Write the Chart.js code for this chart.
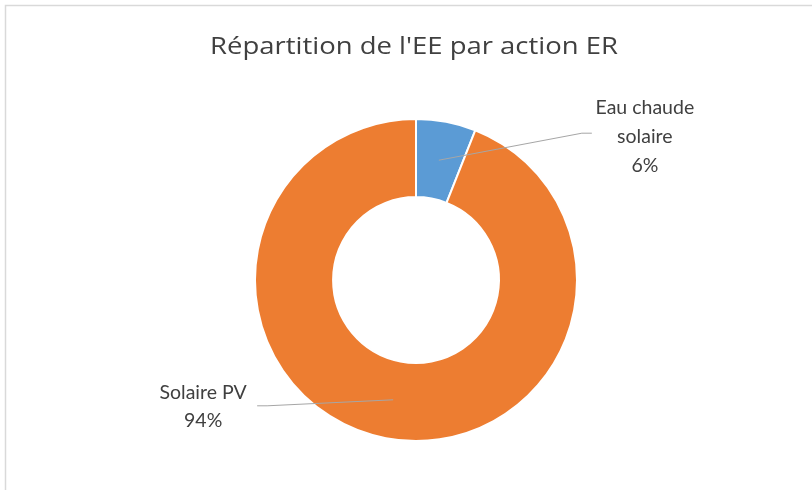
<!DOCTYPE html>
<html>
<head>
<meta charset="utf-8">
<script src="https://cdn.jsdelivr.net/npm/chart.js@4/dist/chart.umd.min.js"></script>
<style>
  html, body { margin: 0; padding: 0; background: #fff; }
  #wrap { width: 812px; height: 490px; position: relative; }
</style>
</head>
<body>
<div id="wrap"><canvas id="c" width="812" height="490"></canvas></div>
<script>
// Energy split by renewable action
const chartTitle = "Répartition de l'EE par action ER";
const categories = ["Eau chaude solaire", "Solaire PV"];
const labelLines = [["Eau chaude", "solaire"], ["Solaire PV"]];
const shares = [6, 94];
const sliceColors = ["#5B9BD5", "#ED7D31"];

// Label placement relative to each slice's mid-ring point
const labelLayout = [
  { elbowDx: 143, elbowDy: -27, endDx: 153, textDx: 206, firstBaseDy: -19 },
  { elbowDx: -126, elbowDy: 6, endDx: -136, textDx: -190, firstBaseDy: -7 }
];

const LABEL_FONT = "Lato, 'Open Sans', sans-serif";
const TITLE_FONT = "'Open Sans', Lato, sans-serif";
const TITLE_WIDTH = 408;
const LINE_GAP = 28.7;

const decorPlugin = {
  id: 'decor',
  beforeDraw(chart) {
    const ctx = chart.ctx;
    ctx.save();
    ctx.fillStyle = '#fff';
    ctx.fillRect(0, 0, chart.width, chart.height);
    ctx.strokeStyle = '#d9d9d9';
    ctx.lineWidth = 1.5;
    ctx.strokeRect(5.5, 5.5, chart.width + 20, chart.height + 20);
    // title, fitted to its box
    const area = chart.chartArea;
    ctx.font = "24px " + TITLE_FONT;
    const sx = TITLE_WIDTH / ctx.measureText(chartTitle).width;
    ctx.translate((area.left + area.right) / 2 - 2, 54);
    ctx.scale(sx, 1);
    ctx.fillStyle = '#404040';
    ctx.textAlign = 'center';
    ctx.textBaseline = 'alphabetic';
    ctx.fillText(chartTitle, 0, 0);
    ctx.restore();
  },
  afterDatasetsDraw(chart) {
    const ctx = chart.ctx;
    const meta = chart.getDatasetMeta(0);
    const total = shares.reduce((a, b) => a + b, 0);
    ctx.save();
    meta.data.forEach((arc, i) => {
      const p = arc.tooltipPosition();
      const L = labelLayout[i];
      ctx.strokeStyle = '#a6a6a6';
      ctx.lineWidth = 1;
      ctx.beginPath();
      ctx.moveTo(p.x, p.y);
      ctx.lineTo(p.x + L.elbowDx, p.y + L.elbowDy);
      ctx.lineTo(p.x + L.endDx, p.y + L.elbowDy);
      ctx.stroke();
      const lines = labelLines[i].concat([Math.round(shares[i] / total * 100) + '%']);
      ctx.fillStyle = '#404040';
      ctx.font = "19.5px " + LABEL_FONT;
      ctx.textAlign = 'center';
      ctx.textBaseline = 'alphabetic';
      lines.forEach((t, k) => {
        ctx.fillText(t, p.x + L.textDx, p.y + L.elbowDy + L.firstBaseDy + k * LINE_GAP);
      });
    });
    ctx.restore();
  }
};

new Chart(document.getElementById('c'), {
  type: 'doughnut',
  data: {
    labels: categories,
    datasets: [{
      data: shares,
      backgroundColor: sliceColors,
      borderColor: '#ffffff',
      borderWidth: 2
    }]
  },
  options: {
    responsive: false,
    animation: false,
    cutout: '51.5%',
    layout: { padding: { top: 118, bottom: 48, left: 100, right: 80 } },
    plugins: {
      legend: { display: false },
      title: { display: false },
      tooltip: { enabled: false }
    }
  },
  plugins: [decorPlugin]
});
</script>
</body>
</html>
